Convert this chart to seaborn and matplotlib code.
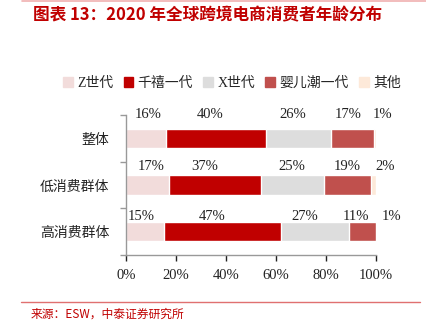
import numpy as np
import pandas as pd
import matplotlib
matplotlib.use("Agg")
import matplotlib.pyplot as plt
from matplotlib.lines import Line2D
import matplotlib.transforms as mtransforms
import seaborn as sns

# ---- data ----
groups = ["整体", "低消费群体", "高消费群体"]
series = ["Z世代", "千禧一代", "X世代", "婴儿潮一代", "其他"]
z_gen = [16, 17, 15]
millennial = [40, 37, 47]
x_gen = [26, 25, 27]
boomer = [17, 19, 11]
other = [1, 2, 1]
x_ticks = [0, 20, 40, 60, 80, 100]
x_tick_labels = ["0%", "20%", "40%", "60%", "80%", "100%"]

title = "图表 13：2020 年全球跨境电商消费者年龄分布"
source = "来源：ESW，中泰证券研究所"

# ---- style ----
colors = ["#F2DCDB", "#C00000", "#DDDDDD", "#C0504D", "#FDE9D9"]
# label offsets in pixels (dx per label, dy per row) for layout only
label_dx = [[2, -6, -6, -4, 8], [4, -10, 0, 0, 12], [-4, -10, -10, -6, 14]]
row_dy = [23.5, 19, 15]

sns.set_theme(style="white")
plt.rcParams["font.family"] = ["Liberation Serif", "Noto Sans CJK SC", "DejaVu Sans"]

values = np.array([z_gen, millennial, x_gen, boomer, other], dtype=float)
cum = np.cumsum(values, axis=0)

fig = plt.figure(figsize=(4.26, 3.26), dpi=100)
ax = fig.add_axes([126 / 426, 1 - 255 / 326, 250 / 426, 140 / 326])

# stacked bars via overlay of cumulative sums (draw largest first)
for i in range(len(series) - 1, -1, -1):
    df = pd.DataFrame({"group": groups, "value": cum[i]})
    sns.barplot(data=df, x="value", y="group", orient="h", color=colors[i],
                width=0.41, ax=ax, saturation=1, label=series[i])

ax.set_xlim(0, 100)
ax.set_ylim(2.5, -0.5)
ax.set_xlabel("")
ax.set_ylabel("")
ax.set_xticks(x_ticks)
ax.set_xticklabels(x_tick_labels, fontsize=10.5)
ax.set_yticks(range(len(groups)))
ax.set_yticklabels(groups, fontsize=10, family=["Noto Sans CJK SC"])
ax.set_yticks([-0.5, 0.5, 1.5, 2.5], minor=True)
ax.tick_params(axis="y", which="major", length=0, pad=12, colors="#222222")
ax.tick_params(axis="y", which="minor", length=4, width=1, color="#999999", left=True)
ax.tick_params(axis="x", which="major", length=4, width=1, color="#999999",
               bottom=True, pad=6, colors="#222222")
ax.tick_params(axis="x", colors="#222222")
for s in ["top", "right"]:
    ax.spines[s].set_visible(False)
for s in ["left", "bottom"]:
    ax.spines[s].set_color("#999999")
    ax.spines[s].set_linewidth(1)
if ax.get_legend():
    ax.get_legend().remove()

# value labels
for r in range(len(groups)):
    for i in range(len(series)):
        start = cum[i][r] - values[i][r]
        center = start + values[i][r] / 2
        tr = mtransforms.offset_copy(ax.transData, fig=fig,
                                     x=label_dx[r][i] * 0.72, y=row_dy[r] * 0.72,
                                     units="points")
        ax.text(center, r, f"{int(values[i][r])}%", transform=tr,
                ha="center", va="center", fontsize=10.5, color="#222222",
                clip_on=False)

# legend
handles = [plt.Rectangle((0, 0), 1, 1, color=c) for c in colors]
fig.legend(handles, series, loc="center left", bbox_to_anchor=(56 / 426, 1 - 83 / 326),
           ncol=5, frameon=False, handlelength=0.7, handleheight=0.7,
           handletextpad=0.3, columnspacing=0.75, borderpad=0,
           prop={"family": ["Liberation Serif", "Noto Sans CJK SC"], "size": 10})

# title and source
fig.text(33 / 426, 1 - 15 / 326, title, fontsize=12, fontweight="bold",
         color="#C00000", ha="left", va="center", style="italic",
         family=["Noto Sans CJK SC", "DejaVu Sans"])
fig.text(31 / 426, 1 - 314 / 326, source, fontsize=8.5, color="#C00000",
         ha="left", va="center", family=["Noto Sans CJK SC", "DejaVu Sans"])

fig.add_artist(Line2D([22 / 426, 1.0], [1 - 0.5 / 326, 1 - 0.5 / 326],
                      transform=fig.transFigure, color="#F0B0B0", lw=1.2))
fig.add_artist(Line2D([21 / 426, 420 / 426], [1 - 302 / 326, 1 - 302 / 326],
                      transform=fig.transFigure, color="#E07070", lw=1))

fig.savefig("out.png", dpi=100)
